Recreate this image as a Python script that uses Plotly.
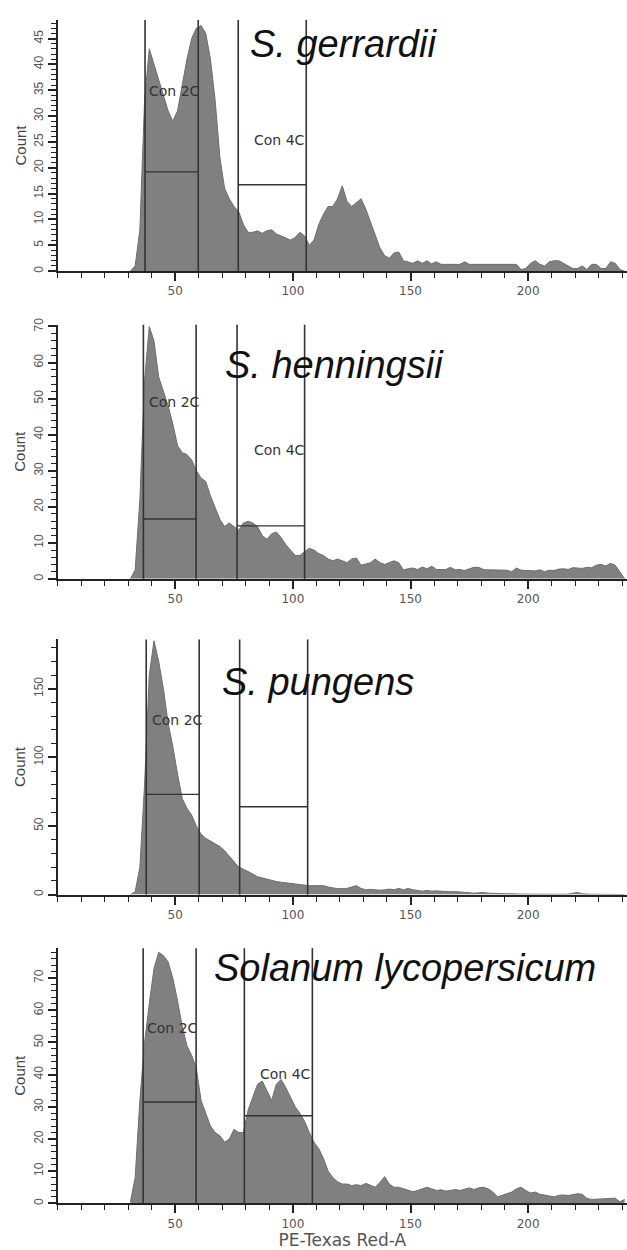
import plotly.graph_objects as go

# ---------------- data ----------------
BIN_START = 30
BIN_WIDTH = 2

species = ["S. gerrardii", "S. henningsii", "S. pungens", "Solanum lycopersicum"]

counts_gerrardii = [
    0, 1, 8, 33, 43, 40, 37, 34, 31, 29,
    31, 36, 41, 45, 47, 47.5, 46, 41, 33, 22,
    16, 14, 12.5, 11.5, 9, 7.5, 7.5, 7.8, 7.3, 7.8,
    8, 7.2, 6.8, 6.3, 6, 6.5, 7.5, 6.8, 5, 6,
    9, 11, 12.5, 12.5, 14, 16.5, 13.5, 12.5, 13.3, 14,
    12, 9.5, 7, 4.5, 3, 2.5, 3.5, 3.7, 2, 1.7,
    1.5, 2, 1.5, 2, 1.4, 1.8, 1.3, 1.3, 1.3, 1.3,
    1.3, 1.8, 1.3, 1.3, 1.3, 1.3, 1.3, 1.3, 1.3, 1.3,
    1.3, 1.3, 1.3, 0.3, 0.5, 1.5, 2, 1.3, 1, 1.8,
    2, 2, 1.5, 1, 0.5, 0.5, 1, 0.3, 1.3, 1.3,
    0.5, 0.5, 1.8, 1.5, 0.3, 0,
]

counts_henningsii = [
    0, 2.5, 22, 55, 70, 66, 56, 52, 48, 43,
    37, 35, 34.5, 33, 30, 28, 27, 23, 20, 16.5,
    14.5, 15.5, 14.5, 13.5, 15.5, 16, 15.5, 14.5, 12, 11,
    12.5, 13, 11.5, 9.5, 8, 6.5, 6.5, 7.5, 8.5, 8,
    7, 6.5, 5.5, 5, 5.5, 5, 4.5, 5.5, 5.8, 3.8,
    4.2, 4.5, 5.5, 4.5, 4, 4.5, 5, 4.5, 2.5, 2.8,
    3, 2.6, 3.3, 2.8, 3.5, 2.6, 2.6, 2.6, 3.2, 2.5,
    2.6, 2.3, 2.8, 3.2, 3.2, 2.6, 2.5, 2.5, 2.3, 2.5,
    2.4, 2, 3, 2.4, 2.3, 2.3, 2.2, 2.5, 2, 2.4,
    2.3, 2.7, 2.8, 2.6, 3.1, 3, 2.9, 3.2, 3.1, 3.8,
    4, 3.6, 4.3, 3.8, 2, 0,
]

counts_pungens = [
    0, 2, 20, 80, 160, 185, 170, 150, 125, 108,
    88, 70, 63, 58, 50, 44, 41, 39, 37, 35,
    32, 28, 24, 20, 18.5, 17, 15, 13, 12, 11,
    10, 9.5, 9, 8.5, 8, 7.7, 7.2, 7, 6.5, 6.5,
    6.3, 6.5, 5.5, 4.8, 4.3, 4.5, 4.5, 5.5, 6.5, 4.5,
    3.5, 3.8, 3.5, 3.2, 3.5, 4, 3.5, 4.5, 3.5, 4.5,
    3.5, 3, 2.5, 3, 2.5, 2.7, 2.3, 2.3, 2, 2.2,
    1.8, 1.5, 1.5, 1, 1.3, 1.5, 1, 0.8, 0.5, 0.8,
    0.5, 0.6, 0.3, 0.3, 0.3, 0.2, 0.2, 0.2, 0.2, 0.2,
    0.2, 0.2, 0.2, 0.3, 1, 1.5, 0.5, 0.2, 0.2, 0.2,
    0.2, 0.2, 0.2, 0.2, 0.2, 0,
]

counts_lycopersicum = [
    0.5, 8, 32, 50, 62, 73, 78, 77, 75, 70,
    63, 55, 49, 46, 42, 32, 28, 24, 22, 21,
    19, 20, 23, 22, 22, 29, 33, 37, 38, 35,
    32, 37, 38.5, 36, 33, 30, 28, 25.5, 22, 19,
    17, 14, 10, 8, 6.7, 6, 6, 5.5, 5.8, 5.5,
    6.2, 5.5, 5, 6.5, 8.3, 6, 5, 5, 4.6, 4.2,
    3.6, 4, 4.5, 5, 4.5, 4, 4.2, 3.8, 4, 4.3,
    4, 4.5, 4.8, 4.3, 4.8, 5, 4.5, 3.5, 2, 2.5,
    3, 3.5, 4.5, 5, 4, 3.2, 3.5, 2.8, 2.6, 2.2,
    2, 2.5, 2.6, 2.4, 2.8, 3, 2.8, 1.5, 1.2, 1.3,
    1.2, 1.3, 1.5, 1.6, 0.5, 1.2,
]

all_counts = [counts_gerrardii, counts_henningsii, counts_pungens, counts_lycopersicum]

# gates: (left, right, marker level)
gate_2c = [(37.2, 59.8, 19.2), (36.5, 58.9, 16.6), (37.7, 60.2, 73), (36.4, 58.9, 31.5)]
gate_4c = [(76.8, 105.7, 16.7), (76.3, 105.0, 14.7), (77.4, 106.3, 64), (79.4, 108.3, 27.2)]
# gate label positions (x, y) ; None = not shown
label_2c = [(38.1, 34.8), (38.0, 49.0), (39.4, 127), (37.2, 54.5)]
label_4c = [(82.8, 25.4), (82.6, 35.7), None, (85.3, 40.2)]

y_max = [48.6, 70.5, 186, 79.3]
y_major = [5, 10, 50, 10]
y_minor = [1, 2, 10, 2]

x_tickvals = [50, 100, 150, 200]
x_range = [0, 242]
x_title = "PE-Texas Red-A"
y_title = "Count"

# ---------------- layout geometry (pixels) ----------------
W, H = 627, 1250
plot_left_px = 57.5
panel_px = [(13, 266), (320, 576), (637, 894), (948, 1205)]
title_px = [(248, 37), (223, 361), (220, 680), (211.7, 968)]

fig = go.Figure()

axis_color = "#222222"
tick_font = dict(family="DejaVu Sans", size=12, color="#555555")
fill_col = "rgb(128,128,128)"
gate_col = "#333333"

for i, counts in enumerate(all_counts):
    n = i + 1
    xa = "x" if n == 1 else f"x{n}"
    ya = "y" if n == 1 else f"y{n}"
    xs = [BIN_START + BIN_WIDTH * k + BIN_WIDTH / 2 for k in range(len(counts))]
    fig.add_trace(go.Scatter(
        x=xs, y=counts, mode="lines", line_shape="linear",
        line=dict(color="rgb(110,110,110)", width=1),
        fill="tozeroy", fillcolor=fill_col,
        xaxis=xa, yaxis=ya, showlegend=False, hoverinfo="skip",
    ))

    top_px, bot_px = panel_px[i]
    dom = [(H - bot_px) / H, (H - top_px) / H]
    xkey = "xaxis" if n == 1 else f"xaxis{n}"
    ykey = "yaxis" if n == 1 else f"yaxis{n}"
    fig.update_layout(**{
        xkey: dict(
            domain=[plot_left_px / W, 1], range=x_range, anchor=ya,
            tickmode="array", tickvals=x_tickvals,
            ticks="outside", ticklen=8, tickwidth=1.5, tickcolor=axis_color,
            minor=dict(tick0=0, dtick=10, ticks="outside", ticklen=5,
                       tickwidth=1.2, tickcolor=axis_color),
            showline=True, linecolor=axis_color, linewidth=2,
            showgrid=False, zeroline=False, tickfont=tick_font,
            title=dict(text=x_title if n == 4 else "",
                       font=dict(family="DejaVu Sans", size=17, color="#555555"),
                       standoff=2),
        ),
        ykey: dict(
            domain=dom, range=[0, y_max[i]], anchor=xa,
            tick0=0, dtick=y_major[i],
            ticks="outside", ticklen=8, tickwidth=1.5, tickcolor=axis_color,
            minor=dict(tick0=0, dtick=y_minor[i], ticks="outside", ticklen=5,
                       tickwidth=1.2, tickcolor=axis_color),
            showline=True, linecolor=axis_color, linewidth=2,
            showgrid=False, zeroline=False, tickangle=-90,
            tickfont=dict(family="Liberation Sans", size=12, color="#555555"),
        ),
    })

    # gates
    for (g0, g1, lvl) in (gate_2c[i], gate_4c[i]):
        for gx in (g0, g1):
            fig.add_shape(type="line", xref=xa, yref=f"{ya} domain",
                          x0=gx, x1=gx, y0=0, y1=1,
                          line=dict(color=gate_col, width=1.6))
        fig.add_shape(type="line", xref=xa, yref=ya,
                      x0=g0, x1=g1, y0=lvl, y1=lvl,
                      line=dict(color=gate_col, width=1.4))

    for lab, txt in ((label_2c[i], "Con 2C"), (label_4c[i], "Con 4C")):
        if lab is None:
            continue
        fig.add_annotation(x=lab[0], y=lab[1], xref=xa, yref=ya, text=txt,
                           showarrow=False, xanchor="left", yanchor="middle",
                           font=dict(family="DejaVu Sans", size=14, color="#333333"))

    # species title
    tx, ty = title_px[i]
    fig.add_annotation(x=tx / W, y=(H - ty) / H, xref="paper", yref="paper",
                       text=f"<i>{species[i]}</i>", showarrow=False,
                       xanchor="left", yanchor="middle",
                       font=dict(family="Liberation Sans", size=38, color="#111111"))

    # y title
    fig.add_annotation(x=20 / W, y=(H - (top_px + bot_px) / 2) / H,
                       xref="paper", yref="paper", text=y_title, textangle=-90,
                       showarrow=False, xanchor="center", yanchor="middle",
                       font=dict(family="Liberation Sans", size=15, color="#444444"))

fig.update_layout(
    width=W, height=H,
    margin=dict(l=0, r=0, t=0, b=0),
    paper_bgcolor="white", plot_bgcolor="white",
    showlegend=False,
)

fig.write_html("out.html")
